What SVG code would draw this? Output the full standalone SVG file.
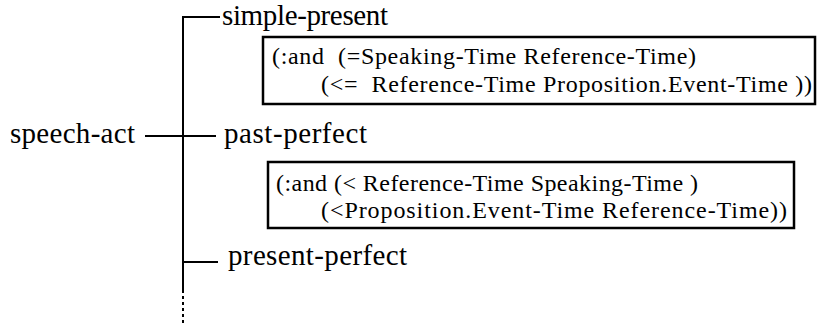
<svg xmlns="http://www.w3.org/2000/svg" width="817" height="324" viewBox="0 0 817 324">
  <style>
    .lbl { font-family: "Liberation Serif", "Times New Roman", serif; font-size: 29px; fill: #000; }
    .def { font-family: "Liberation Serif", "Times New Roman", serif; font-size: 24px; fill: #000; white-space: pre; }
    .box { fill: #fff; stroke: #000; stroke-width: 2.5; }
    .wire { stroke: #000; stroke-width: 2; fill: none; }
    .more { stroke: #000; stroke-width: 2; stroke-dasharray: 3 3; fill: none; }
  </style>

  <!-- tree connectors -->
  <g id="connectors">
    <path class="wire" d="M183 290 V17 H220"/>
    <path class="wire" d="M145 136 H216"/>
    <path class="wire" d="M183 262 H218"/>
    <path class="more" d="M183 290 V324"/>
  </g>

  <g id="speech-act">
    <text class="lbl" x="10" y="143" textLength="125">speech-act</text>
  </g>

  <g id="simple-present">
    <text class="lbl" x="222" y="25" textLength="166">simple-present</text>
    <rect class="box" x="263" y="37" width="552" height="67"/>
    <text class="def" x="272" y="64" textLength="424" xml:space="preserve">(:and  (=Speaking-Time Reference-Time)</text>
    <text class="def" x="321" y="92" textLength="491" xml:space="preserve">(&lt;=  Reference-Time Proposition.Event-Time ))</text>
  </g>

  <g id="past-perfect">
    <text class="lbl" x="224" y="143" textLength="143">past-perfect</text>
    <rect class="box" x="268" y="162" width="526" height="66"/>
    <text class="def" x="276" y="191" textLength="422">(:and (&lt; Reference-Time Speaking-Time )</text>
    <text class="def" x="321" y="218" textLength="466">(&lt;Proposition.Event-Time Reference-Time))</text>
  </g>

  <g id="present-perfect">
    <text class="lbl" x="228" y="265" textLength="179">present-perfect</text>
  </g>
</svg>
